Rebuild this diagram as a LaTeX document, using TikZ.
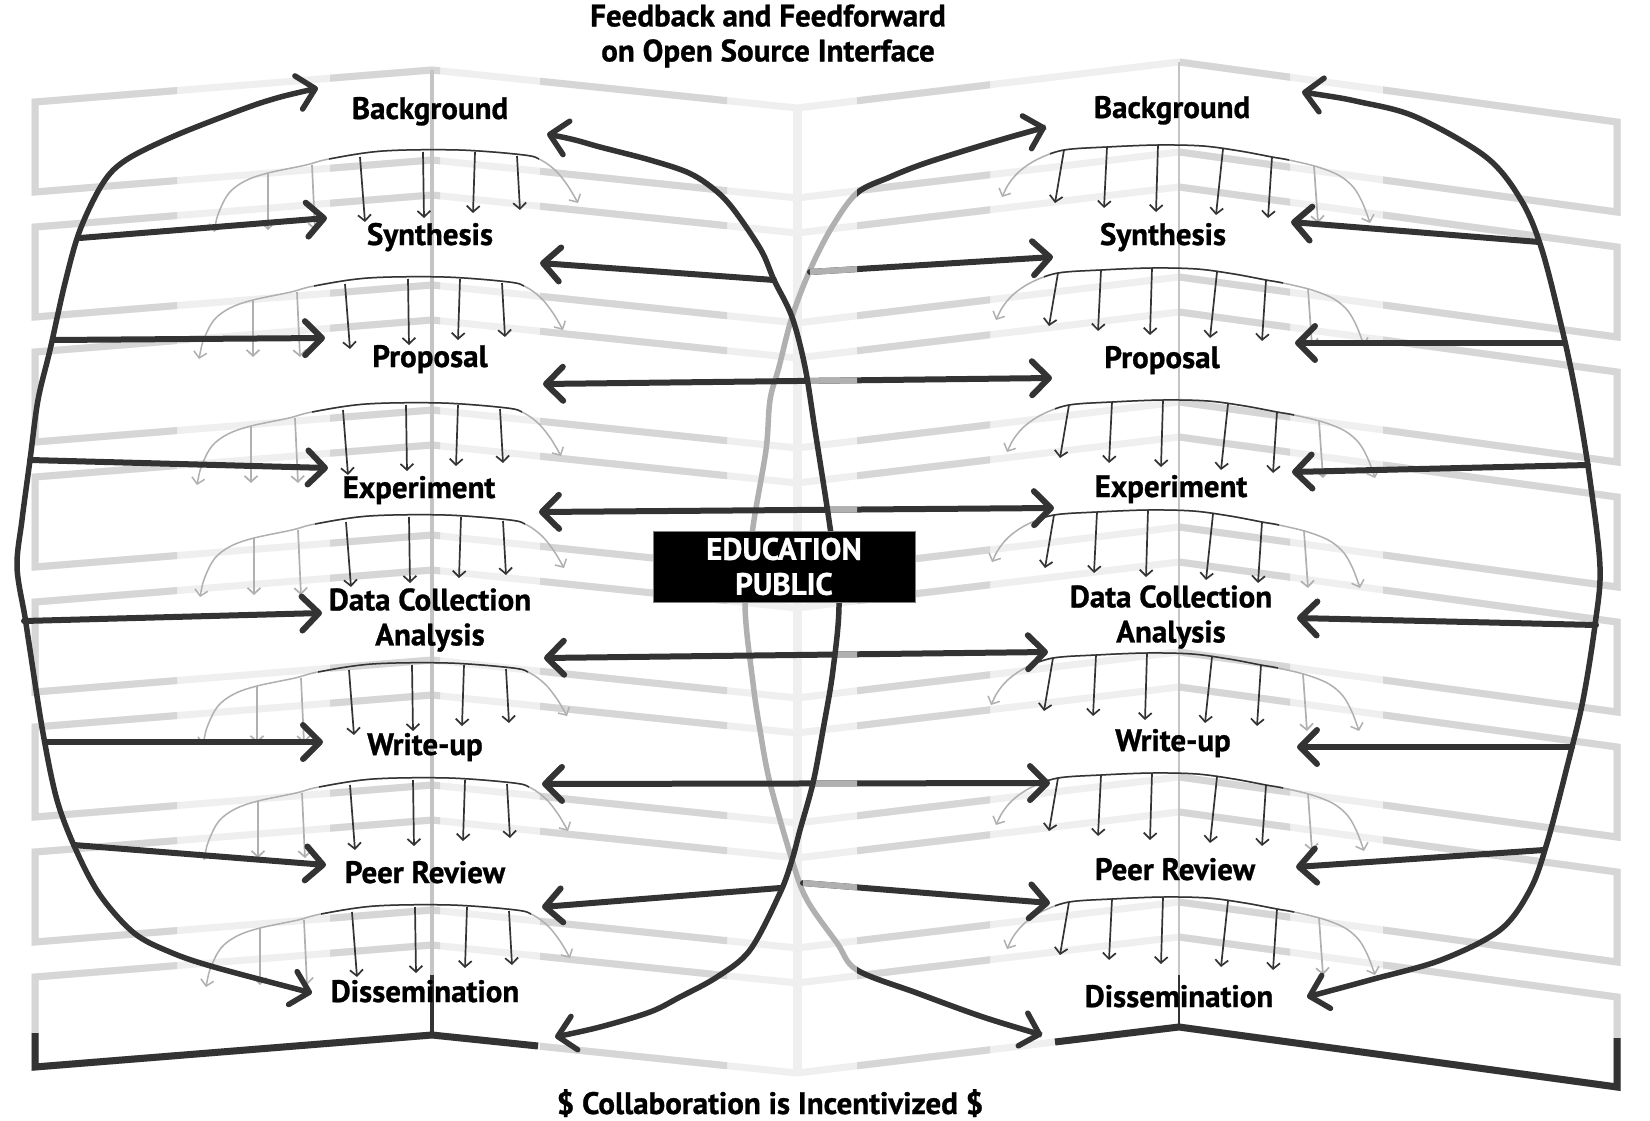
\documentclass[tikz,border=0pt]{standalone}
\usepackage{fontspec}
\setmainfont{PT Sans}
\newfontfamily\lblfont{PT Sans Bold}[FakeBold=0.9]
\usetikzlibrary{arrows.meta}
\definecolor{ink}{HTML}{333333}
\definecolor{soft}{HTML}{B0B0B0}
\definecolor{pagemid}{HTML}{D6D6D6}
\definecolor{pagelight}{HTML}{EFEFEF}
\definecolor{spinegray}{HTML}{C4C4C4}
\tikzset{
 bigarr/.style={ink, line width=6pt, line cap=round, -{Straight Barb[length=17pt,width=34pt,round]}},
 bigboth/.style={ink, line width=6pt, line cap=round, {Straight Barb[length=17pt,width=34pt,round]}-{Straight Barb[length=17pt,width=34pt,round]}},
 loopline/.style={ink, line width=5.5pt, line cap=round, {Straight Barb[length=17pt,width=34pt,round]}-{Straight Barb[length=17pt,width=34pt,round]}},
 smallarr/.style={line width=1.7pt, -{Straight Barb[length=6pt,width=13pt]}},
 fanline/.style={line width=1.5pt},
 pageedge/.style={line width=7pt, line join=miter},
 lbl/.style={font=\fontsize{31}{35}\lblfont, inner sep=0pt, anchor=base},
 lbltwo/.style={font=\fontsize{31}{35}\lblfont, inner sep=0pt, align=center},
}
\newcommand\fanleft[2]{%
 \begin{scope}[shift={(#1,#2)}]
  \draw[soft, fanline, {Straight Barb[length=6pt,width=13pt]}-{Straight Barb[length=6pt,width=13pt]}]
    plot[smooth, tension=0.55] coordinates {(214,82) (219,62) (229,43) (245,31) (268,23) (306,15) (329,9) (383,1) (459,0) (524,5) (541,10) (556,21) (568,36) (578,53)};
  \begin{scope}
   \clip (329,-20) rectangle (539,30);
   \draw[ink, fanline] plot[smooth, tension=0.55] coordinates {(214,82) (219,62) (229,43) (245,31) (268,23) (306,15) (329,9) (383,1) (459,0) (524,5) (541,10) (556,21) (568,36) (578,53)};
  \end{scope}
  \draw[soft, smallarr] (268,23) -- (268,80);
  \draw[soft, smallarr] (312,15) -- (315,80);
  \draw[ink, smallarr] (360,7) -- (365,72);
  \draw[ink, smallarr] (423,2) -- (424,68);
  \draw[ink, smallarr] (475,2) -- (473,63);
  \draw[ink, smallarr] (517,6) -- (520,60);
 \end{scope}}
\newcommand\fanright[2]{%
 \begin{scope}[shift={(#1,#2)}]
  \draw[soft, fanline, {Straight Barb[length=6pt,width=13pt]}-{Straight Barb[length=6pt,width=13pt]}]
    plot[smooth, tension=0.55] coordinates {(1002,52) (1010,37) (1021,25) (1038,14) (1064,5) (1107,2) (1158,0) (1203,1) (1240,6) (1272,12) (1289,15) (1318,22) (1340,31) (1354,43) (1363,59) (1370,78)};
  \begin{scope}
   \clip (1050,-20) rectangle (1289,30);
   \draw[ink, fanline] plot[smooth, tension=0.55] coordinates {(1002,52) (1010,37) (1021,25) (1038,14) (1064,5) (1107,2) (1158,0) (1203,1) (1240,6) (1272,12) (1289,15) (1318,22) (1340,31) (1354,43) (1363,59) (1370,78)};
  \end{scope}
  \draw[ink, smallarr] (1064,5) -- (1055,58);
  \draw[ink, smallarr] (1107,2) -- (1104,63);
  \draw[ink, smallarr] (1158,0) -- (1156,67);
  \draw[ink, smallarr] (1223,4) -- (1216,70);
  \draw[ink, smallarr] (1272,12) -- (1268,73);
  \draw[soft, smallarr] (1314,21) -- (1318,78);
 \end{scope}}
\begin{document}
\begin{tikzpicture}[x=1pt,y=-1pt]
\useasboundingbox (0,0) rectangle (1650,1121);
\fill[white] (0,0) rectangle (1650,1121);
% ---------- stacked open pages ----------
\foreach \d in {0,125,...,875}
  \draw[pagelight, pageedge] (35,102+\d) -- (432,70+\d) -- (797,108+\d) -- (1179,62+\d) -- (1617,122+\d) -- (1617,212+\d) -- (1179,152+\d) -- (797,198+\d) -- (432,160+\d) -- (35,192+\d) -- cycle;
\begin{scope}
 \clip (0,0) rectangle (177,1121) (330,0) rectangle (440,1121) (540,0) rectangle (727,1121) (857,0) rectangle (990,1121) (1180,0) rectangle (1290,1121) (1383,0) rectangle (1650,1121);
 \foreach \d in {0,125,...,875}
  \draw[pagemid, pageedge] (35,102+\d) -- (432,70+\d) -- (797,108+\d) -- (1179,62+\d) -- (1617,122+\d) -- (1617,212+\d) -- (1179,152+\d) -- (797,198+\d) -- (432,160+\d) -- (35,192+\d) -- cycle;
\end{scope}
\draw[pagelight, line width=9pt] (797,108) -- (797,1073);
\draw[spinegray, line width=3.5pt] (432,70) -- (432,1035);
\draw[spinegray, line width=2.5pt] (1179,62) -- (1179,1027);
\draw[ink, pageedge] (35,1033) -- (35,1067) -- (432,1035) -- (538,1046);
\draw[ink, pageedge] (1055,1042) -- (1179,1027) -- (1617,1087) -- (1617,1038);
\draw[ink, line width=3.5pt] (432,975) -- (432,1035);
\draw[ink, line width=2.5pt] (1179,975) -- (1179,1027);
% ---------- fans ----------
\fanleft{0}{150} \fanleft{-15}{277} \fanleft{-17}{403} \fanleft{-14}{515}
\fanleft{-11}{663} \fanleft{-10}{778} \fanleft{-8}{905}
\fanright{0}{145} \fanright{-6}{268} \fanright{5}{400} \fanright{-10}{510}
\fanright{-11}{653} \fanright{-6}{773} \fanright{5}{897}
% ---------- coordinates ----------
\coordinate (LT) at (318,88);  \coordinate (LB) at (312,993);
\coordinate (RT) at (1302,92); \coordinate (RB) at (1307,997);
\coordinate (DT) at (547,134); \coordinate (DB) at (555,1037);
\coordinate (GT) at (1046,127); \coordinate (GB) at (1042,1035);
% left loop arrows
\coordinate (la1) at (80,238);  \coordinate (lt1) at (327,218);
\coordinate (la2) at (53,340);  \coordinate (lt2) at (325,338);
\coordinate (la3) at (30,460);  \coordinate (lt3) at (328,468);
\coordinate (la4) at (24,621);  \coordinate (lt4) at (322,613);
\coordinate (la5) at (46,742);  \coordinate (lt5) at (323,742);
\coordinate (la6) at (74,845);  \coordinate (lt6) at (326,865);
% right loop arrows
\coordinate (ra1) at (1539,242); \coordinate (rt1) at (1291,222);
\coordinate (ra2) at (1565,343); \coordinate (rt2) at (1295,343);
\coordinate (ra3) at (1588,465); \coordinate (rt3) at (1292,472);
\coordinate (ra4) at (1596,625); \coordinate (rt4) at (1297,618);
\coordinate (ra5) at (1572,747); \coordinate (rt5) at (1297,747);
\coordinate (ra6) at (1544,850); \coordinate (rt6) at (1296,867);
% middle arrows
\coordinate (Dsy) at (774,280); \coordinate (MLsy) at (540,263);
\coordinate (Gsy) at (810,272); \coordinate (MRsy) at (1053,257);
\coordinate (MLpr) at (543,384); \coordinate (MRpr) at (1052,378);
\coordinate (MLex) at (539,512); \coordinate (MRex) at (1054,508);
\coordinate (MLdc) at (544,658); \coordinate (MRdc) at (1048,652);
\coordinate (MLwu) at (542,784); \coordinate (MRwu) at (1050,783);
\coordinate (Dpe) at (780,888); \coordinate (MLpe) at (542,907);
\coordinate (Gpe) at (803,883); \coordinate (MRpe) at (1050,903);
% ---------- big loops ----------
\draw[loopline] plot[smooth, tension=0.55] coordinates {(LT) (270,100) (230,114) (172,137) (126,160) (103,183) (80,230) (65,283) (50,350) (38,400) (30,460) (22,520) (17,567) (25,617) (30,650) (43,733) (57,800) (76,850) (100,895) (134,933) (170,952) (214,967) (LB)};
\draw[loopline] plot[smooth, tension=0.55] coordinates {(RT) (1360,102) (1416,117) (1486,157) (1521,200) (1542,250) (1563,333) (1577,400) (1590,480) (1600,567) (1595,625) (1583,700) (1567,767) (1547,843) (1530,890) (1500,930) (1441,960) (1370,980) (RB)};
\foreach \i in {1,...,6} {
  \draw[bigarr] (la\i) -- (lt\i);
  \draw[bigarr] (ra\i) -- (rt\i);
}
% ---------- centre lens ----------
\draw[soft, line width=5.5pt] plot[smooth, tension=0.55] coordinates {(GT) (1000,140) (957,153) (920,165) (890,177) (857,193) (832,227) (810,270) (792,317) (779,367) (770,400) (766,450) (753,527) (745,603) (753,683) (760,730) (770,783) (792,860) (807,900) (837,943) (857,970) (917,993) (983,1017) (GB)};
\draw[bigarr] (Dsy) -- (MLsy);
\draw[bigarr] (Gsy) -- (MRsy);
\draw[bigboth] (MLpr) -- (MRpr);
\draw[bigboth] (MLex) -- (MRex);
\draw[bigboth] (MLdc) -- (MRdc);
\draw[bigboth] (MLwu) -- (MRwu);
\draw[bigarr] (Dpe) -- (MLpe);
\draw[bigarr] (Gpe) -- (MRpe);
\begin{scope}
 \clip (800,200) rectangle (857,330) (806,330) rectangle (857,450) (828,450) rectangle (857,560) (836,600) rectangle (857,720) (812,720) rectangle (857,840) (790,840) rectangle (857,950);
 \draw[soft, line width=6pt] (Gsy) -- (MRsy);
 \draw[soft, line width=6pt] (MLpr) -- (MRpr);
 \draw[soft, line width=6pt] (MLex) -- (MRex);
 \draw[soft, line width=6pt] (MLdc) -- (MRdc);
 \draw[soft, line width=6pt] (MLwu) -- (MRwu);
 \draw[soft, line width=6pt] (Gpe) -- (MRpe);
\end{scope}
\draw[loopline] plot[smooth, tension=0.55] coordinates {(DT) (575,140) (600,147) (650,160) (689,173) (715,190) (734,210) (761,250) (774,280) (792,317) (805,367) (815,430) (830,527) (839,600) (833,670) (823,730) (813,783) (800,830) (792,860) (780,893) (750,950) (717,977) (680,997) (650,1012) (600,1027) (DB)};
\begin{scope}
 \clip (857,0) rectangle (1650,1121);
 \draw[loopline] plot[smooth, tension=0.55] coordinates {(GT) (1000,140) (957,153) (920,165) (890,177) (857,193) (832,227) (810,270) (792,317) (779,367) (770,400) (766,450) (753,527) (745,603) (753,683) (760,730) (770,783) (792,860) (807,900) (837,943) (857,970) (917,993) (983,1017) (GB)};
\end{scope}
% ---------- labels ----------
\node[lbl] (Lbg) at (430,119) {Background};
\node[lbl] (Lsy) at (430,245) {Synthesis};
\node[lbl] (Lpr) at (430,367) {Proposal};
\node[lbl] (Lex) at (419,498) {Experiment};
\node[lbltwo] (Ldc) at (430,620) {Data Collection\\Analysis};
\node[lbl] (Lwu) at (425,755) {Write-up};
\node[lbl] (Lpe) at (425,883) {Peer Review};
\node[lbl] (Ldi) at (425,1002) {Dissemination};
\node[lbl] (Rbg) at (1172,118) {Background};
\node[lbl] (Rsy) at (1163,245) {Synthesis};
\node[lbl] (Rpr) at (1162,368) {Proposal};
\node[lbl] (Rex) at (1171,497) {Experiment};
\node[lbltwo] (Rdc) at (1171,617) {Data Collection\\Analysis};
\node[lbl] (Rwu) at (1173,751) {Write-up};
\node[lbl] (Rpe) at (1175,880) {Peer Review};
\node[lbl] (Rdi) at (1179,1007) {Dissemination};
\node[font=\fontsize{31}{35}\lblfont, inner sep=0pt, align=center] (title) at (768,36) {Feedback and Feedforward\\on Open Source Interface};
\node[lbl] (foot) at (770,1114) {\$ Collaboration is Incentivized \$};
\node[fill=black, draw=gray, line width=1pt, minimum width=262pt, minimum height=71pt, inner sep=0pt, text=white, align=center, font=\fontsize{31}{35}\lblfont] (edu) at (784,566.5) {EDUCATION\\PUBLIC};
\end{tikzpicture}
\end{document}
